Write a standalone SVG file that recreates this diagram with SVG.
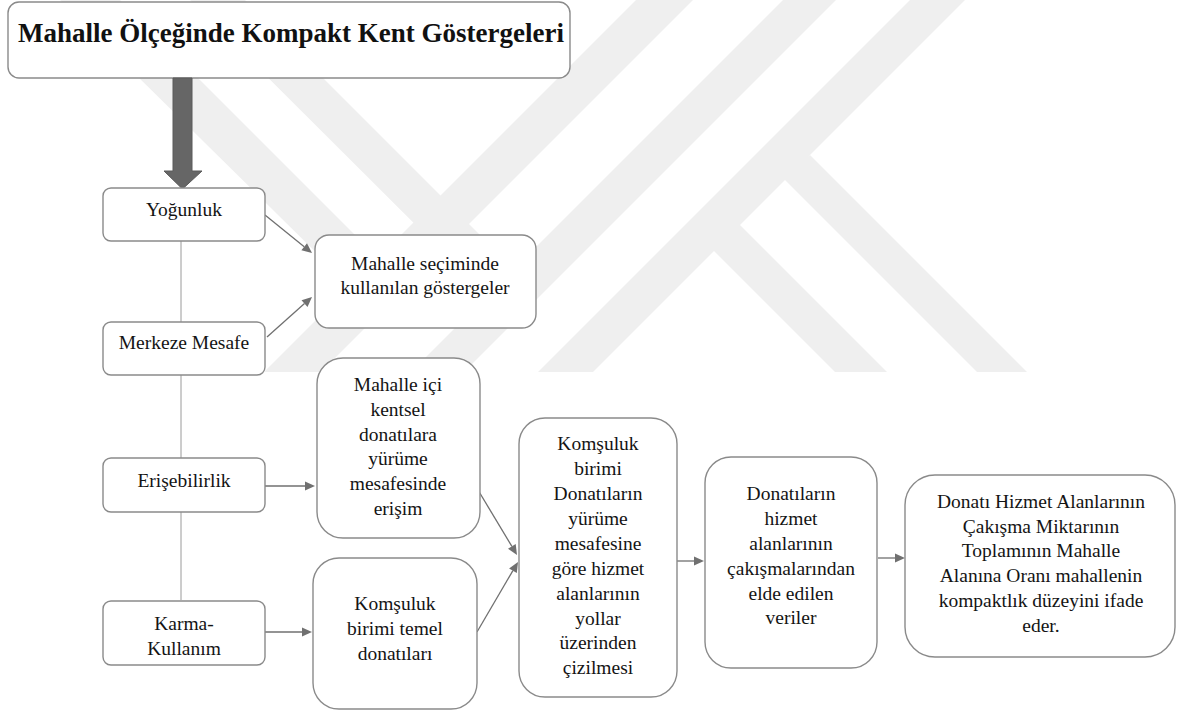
<svg xmlns="http://www.w3.org/2000/svg" width="1181" height="717" viewBox="0 0 1181 717">
  <rect width="1181" height="717" fill="#ffffff"/>

  <!-- background emblem: light grey diagonal bands -->
  <g id="emblem" fill="#efefef">
    <polygon points="60,0 120,0 378,258 350,286"/>
    <polygon points="190,0 245,0 514,269 487,296"/>
    <polygon points="636,0 693,0 321,372 264,372"/>
    <polygon points="783,0 836,0 464,372 411,372"/>
    <polygon points="910,0 965,0 593,372 538,372"/>
    <polygon points="709,246 735,220 887,372 835,372"/>
    <polygon points="780,175 810,155 1027,372 977,372"/>
  </g>

  <!-- connectors: plain ties in the left column, arrows with drawn heads elsewhere -->
  <g id="connectors">
    <g stroke="#9a9a9a" stroke-width="1" fill="none">
      <line x1="181" y1="241" x2="181" y2="322"/>
      <line x1="181" y1="375" x2="181" y2="458"/>
      <line x1="181" y1="512" x2="181" y2="600"/>
    </g>
    <g stroke="#707070" stroke-width="1.3" fill="none">
      <line x1="265" y1="215" x2="304.2" y2="246.7"/>
      <line x1="267" y1="337" x2="304.5" y2="303.6"/>
      <line x1="265" y1="486" x2="305" y2="486"/>
      <line x1="262" y1="632" x2="302" y2="632"/>
      <line x1="478" y1="490" x2="511.9" y2="546.4"/>
      <line x1="477" y1="632" x2="512.9" y2="570.6"/>
      <line x1="677" y1="561" x2="694" y2="561"/>
      <line x1="878" y1="558" x2="895" y2="558"/>
    </g>
    <g fill="#707070">
      <polygon points="312,253 301.4,250.2 307.0,243.2"/>
      <polygon points="312,297 307.5,307.0 301.5,300.3"/>
      <polygon points="315,486 305,481.5 305,490.5"/>
      <polygon points="312,632 302,627.5 302,636.5"/>
      <polygon points="517,555 508.0,548.7 515.7,544.1"/>
      <polygon points="518,562 516.8,572.9 509.1,568.4"/>
      <polygon points="704,561 694,556.5 694,565.5"/>
      <polygon points="905,558 895,553.5 895,562.5"/>
    </g>
  </g>

  <!-- heading and main arrow -->
  <g id="heading">
    <rect x="8" y="2" width="562" height="76" rx="11" fill="#ffffff" stroke="#8a8a8a" stroke-width="1.4"/>
    <text x="291" y="42" text-anchor="middle" fill="#111111" font-family="Liberation Serif" font-size="27" font-weight="bold" style="font-family: 'Liberation Serif', serif !important">Mahalle Ölçeğinde Kompakt Kent Göstergeleri</text>
  </g>
  <g id="main-arrow">
    <polygon points="173,78 192,78 192,171 202,171 182.5,189 164,171 173,171" fill="#666666" stroke="#5a5a5a" stroke-width="1"/>
  </g>

  <!-- indicator column -->
  <g id="yogunluk">
    <rect x="103" y="188" width="162" height="53" rx="8" fill="#ffffff" stroke="#8a8a8a" stroke-width="1.4"/>
    <text x="184" y="216" text-anchor="middle" fill="#141414" font-family="Liberation Serif" font-size="19.5" style="font-family: 'Liberation Serif', serif !important">Yoğunluk</text>
  </g>
  <g id="merkeze-mesafe">
    <rect x="103" y="322" width="162" height="53" rx="8" fill="#ffffff" stroke="#8a8a8a" stroke-width="1.4"/>
    <text x="184" y="349" text-anchor="middle" fill="#141414" font-family="Liberation Serif" font-size="19.5" style="font-family: 'Liberation Serif', serif !important">Merkeze Mesafe</text>
  </g>
  <g id="erisebilirlik">
    <rect x="103" y="458" width="162" height="54" rx="8" fill="#ffffff" stroke="#8a8a8a" stroke-width="1.4"/>
    <text x="184" y="487" text-anchor="middle" fill="#141414" font-family="Liberation Serif" font-size="19.5" style="font-family: 'Liberation Serif', serif !important">Erişebilirlik</text>
  </g>
  <g id="karma-kullanim">
    <rect x="103" y="601" width="162" height="64" rx="8" fill="#ffffff" stroke="#8a8a8a" stroke-width="1.4"/>
    <text x="184" y="630" text-anchor="middle" fill="#141414" font-family="Liberation Serif" font-size="19.5" style="font-family: 'Liberation Serif', serif !important">Karma-</text>
    <text x="184" y="655" text-anchor="middle" fill="#141414" font-family="Liberation Serif" font-size="19.5" style="font-family: 'Liberation Serif', serif !important">Kullanım</text>
  </g>

  <!-- second column -->
  <g id="mahalle-secimi">
    <rect x="315" y="235" width="221" height="93" rx="14" fill="#ffffff" stroke="#8a8a8a" stroke-width="1.4"/>
    <text x="425" y="270" text-anchor="middle" fill="#141414" font-family="Liberation Serif" font-size="19.5" style="font-family: 'Liberation Serif', serif !important">Mahalle seçiminde</text>
    <text x="425" y="294" text-anchor="middle" fill="#141414" font-family="Liberation Serif" font-size="19.5" style="font-family: 'Liberation Serif', serif !important">kullanılan göstergeler</text>
  </g>
  <g id="mahalle-ici">
    <rect x="317" y="358" width="163" height="180" rx="26" fill="#ffffff" stroke="#8a8a8a" stroke-width="1.4"/>
    <text x="398" y="391" text-anchor="middle" fill="#141414" font-family="Liberation Serif" font-size="19.5" style="font-family: 'Liberation Serif', serif !important">Mahalle içi</text>
    <text x="398" y="416" text-anchor="middle" fill="#141414" font-family="Liberation Serif" font-size="19.5" style="font-family: 'Liberation Serif', serif !important">kentsel</text>
    <text x="398" y="441" text-anchor="middle" fill="#141414" font-family="Liberation Serif" font-size="19.5" style="font-family: 'Liberation Serif', serif !important">donatılara</text>
    <text x="398" y="465" text-anchor="middle" fill="#141414" font-family="Liberation Serif" font-size="19.5" style="font-family: 'Liberation Serif', serif !important">yürüme</text>
    <text x="398" y="490" text-anchor="middle" fill="#141414" font-family="Liberation Serif" font-size="19.5" style="font-family: 'Liberation Serif', serif !important">mesafesinde</text>
    <text x="398" y="515" text-anchor="middle" fill="#141414" font-family="Liberation Serif" font-size="19.5" style="font-family: 'Liberation Serif', serif !important">erişim</text>
  </g>
  <g id="temel-donatilar">
    <rect x="313" y="558" width="164" height="151" rx="26" fill="#ffffff" stroke="#8a8a8a" stroke-width="1.4"/>
    <text x="395" y="610" text-anchor="middle" fill="#141414" font-family="Liberation Serif" font-size="19.5" style="font-family: 'Liberation Serif', serif !important">Komşuluk</text>
    <text x="395" y="635" text-anchor="middle" fill="#141414" font-family="Liberation Serif" font-size="19.5" style="font-family: 'Liberation Serif', serif !important">birimi temel</text>
    <text x="395" y="660" text-anchor="middle" fill="#141414" font-family="Liberation Serif" font-size="19.5" style="font-family: 'Liberation Serif', serif !important">donatıları</text>
  </g>

  <!-- processing chain -->
  <g id="hizmet-alanlari">
    <rect x="519" y="418" width="158" height="279" rx="26" fill="#ffffff" stroke="#8a8a8a" stroke-width="1.4"/>
    <text x="598" y="450" text-anchor="middle" fill="#141414" font-family="Liberation Serif" font-size="19.5" style="font-family: 'Liberation Serif', serif !important">Komşuluk</text>
    <text x="598" y="475" text-anchor="middle" fill="#141414" font-family="Liberation Serif" font-size="19.5" style="font-family: 'Liberation Serif', serif !important">birimi</text>
    <text x="598" y="500" text-anchor="middle" fill="#141414" font-family="Liberation Serif" font-size="19.5" style="font-family: 'Liberation Serif', serif !important">Donatıların</text>
    <text x="598" y="525" text-anchor="middle" fill="#141414" font-family="Liberation Serif" font-size="19.5" style="font-family: 'Liberation Serif', serif !important">yürüme</text>
    <text x="598" y="550" text-anchor="middle" fill="#141414" font-family="Liberation Serif" font-size="19.5" style="font-family: 'Liberation Serif', serif !important">mesafesine</text>
    <text x="598" y="575" text-anchor="middle" fill="#141414" font-family="Liberation Serif" font-size="19.5" style="font-family: 'Liberation Serif', serif !important">göre hizmet</text>
    <text x="598" y="600" text-anchor="middle" fill="#141414" font-family="Liberation Serif" font-size="19.5" style="font-family: 'Liberation Serif', serif !important">alanlarının</text>
    <text x="598" y="625" text-anchor="middle" fill="#141414" font-family="Liberation Serif" font-size="19.5" style="font-family: 'Liberation Serif', serif !important">yollar</text>
    <text x="598" y="649" text-anchor="middle" fill="#141414" font-family="Liberation Serif" font-size="19.5" style="font-family: 'Liberation Serif', serif !important">üzerinden</text>
    <text x="598" y="674" text-anchor="middle" fill="#141414" font-family="Liberation Serif" font-size="19.5" style="font-family: 'Liberation Serif', serif !important">çizilmesi</text>
  </g>
  <g id="cakisma-verileri">
    <rect x="705" y="457" width="172" height="211" rx="26" fill="#ffffff" stroke="#8a8a8a" stroke-width="1.4"/>
    <text x="791" y="500" text-anchor="middle" fill="#141414" font-family="Liberation Serif" font-size="19.5" style="font-family: 'Liberation Serif', serif !important">Donatıların</text>
    <text x="791" y="525" text-anchor="middle" fill="#141414" font-family="Liberation Serif" font-size="19.5" style="font-family: 'Liberation Serif', serif !important">hizmet</text>
    <text x="791" y="550" text-anchor="middle" fill="#141414" font-family="Liberation Serif" font-size="19.5" style="font-family: 'Liberation Serif', serif !important">alanlarının</text>
    <text x="791" y="575" text-anchor="middle" fill="#141414" font-family="Liberation Serif" font-size="19.5" style="font-family: 'Liberation Serif', serif !important">çakışmalarından</text>
    <text x="791" y="600" text-anchor="middle" fill="#141414" font-family="Liberation Serif" font-size="19.5" style="font-family: 'Liberation Serif', serif !important">elde edilen</text>
    <text x="791" y="624" text-anchor="middle" fill="#141414" font-family="Liberation Serif" font-size="19.5" style="font-family: 'Liberation Serif', serif !important">veriler</text>
  </g>
  <g id="kompaktlik">
    <rect x="905" y="475" width="270" height="182" rx="30" fill="#ffffff" stroke="#8a8a8a" stroke-width="1.4"/>
    <text x="1041" y="508" text-anchor="middle" fill="#141414" font-family="Liberation Serif" font-size="19.5" style="font-family: 'Liberation Serif', serif !important">Donatı Hizmet Alanlarının</text>
    <text x="1041" y="533" text-anchor="middle" fill="#141414" font-family="Liberation Serif" font-size="19.5" style="font-family: 'Liberation Serif', serif !important">Çakışma Miktarının</text>
    <text x="1041" y="557" text-anchor="middle" fill="#141414" font-family="Liberation Serif" font-size="19.5" style="font-family: 'Liberation Serif', serif !important">Toplamının Mahalle</text>
    <text x="1041" y="582" text-anchor="middle" fill="#141414" font-family="Liberation Serif" font-size="19.5" style="font-family: 'Liberation Serif', serif !important">Alanına Oranı mahallenin</text>
    <text x="1041" y="607" text-anchor="middle" fill="#141414" font-family="Liberation Serif" font-size="19.5" style="font-family: 'Liberation Serif', serif !important">kompaktlık düzeyini ifade</text>
    <text x="1041" y="632" text-anchor="middle" fill="#141414" font-family="Liberation Serif" font-size="19.5" style="font-family: 'Liberation Serif', serif !important">eder.</text>
  </g>
</svg>
